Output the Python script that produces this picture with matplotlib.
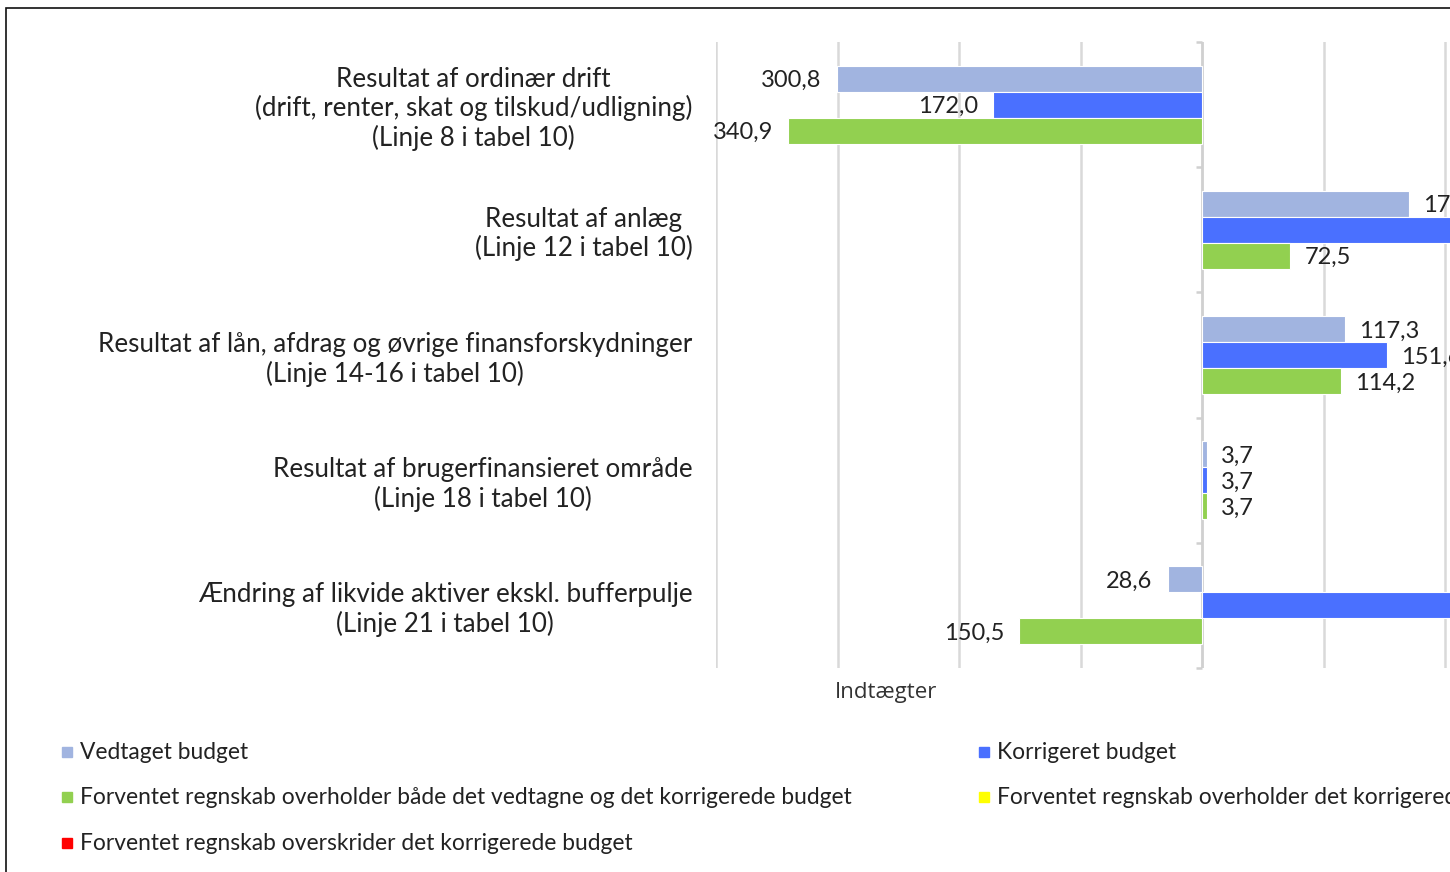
import matplotlib
matplotlib.use("Agg")
import matplotlib.pyplot as plt
from matplotlib.patches import Rectangle
from matplotlib.transforms import ScaledTranslation
import numpy as np

categories = [
    "Resultat af ordinær drift\n(drift, renter, skat og tilskud/udligning)\n(Linje 8 i tabel 10)",
    "Resultat af anlæg\n(Linje 12 i tabel 10)",
    "Resultat af lån, afdrag og øvrige finansforskydninger\n(Linje 14-16 i tabel 10)",
    "Resultat af brugerfinansieret område\n(Linje 18 i tabel 10)",
    "Ændring af likvide aktiver ekskl. bufferpulje\n(Linje 21 i tabel 10)",
]
vedtaget = [-300.8, 170.3, 117.3, 3.7, -28.6]
korrigeret = [-172.0, 300.0, 151.6, 3.7, 283.3]
forventet = [-340.9, 72.5, 114.2, 3.7, -150.5]

legend_labels = [
    "Vedtaget budget",
    "Korrigeret budget",
    "Forventet regnskab overholder både det vedtagne og det korrigerede budget",
    "Forventet regnskab overholder det korrigerede budget",
    "Forventet regnskab overskrider det korrigerede budget",
]
colors = ["#a1b4e0", "#4a70ff", "#92d050"]
legend_colors = ["#a1b4e0", "#4a70ff", "#92d050", "#ffff00", "#ff0000"]
axis_title = "Indtægter"

FONT = "Lato"
W, H = 1450, 872
fig = plt.figure(figsize=(W / 100, H / 100), dpi=100)

# axes geometry (pixels)
x_left_px, y_top_px, y_bot_px = 716, 42, 668
px_per_unit = 1.2157
xmin, xmax = -400, 400
ax_w_px = (xmax - xmin) * px_per_unit
ax = fig.add_axes([x_left_px / W, 1 - y_bot_px / H, ax_w_px / W, (y_bot_px - y_top_px) / H])

n = len(categories)
y = np.arange(n)
bh = 0.208
offsets = [-bh, 0, bh]
for vals, off, c in zip([vedtaget, korrigeret, forventet], offsets, colors):
    ax.barh(y + off, vals, height=bh, color=c, edgecolor="white", linewidth=0.8, zorder=3)
    for v, yy in zip(vals, y + off):
        lab = f"{abs(v):.1f}".replace(".", ",")
        if v < 0:
            ax.annotate(lab, (v, yy), xytext=(-15, -2), textcoords="offset pixels",
                        ha="right", va="center", fontsize=17, family=FONT, color="#222222")
        else:
            ax.annotate(lab, (v, yy), xytext=(14, -2), textcoords="offset pixels",
                        ha="left", va="center", fontsize=17, family=FONT, color="#222222",
                        annotation_clip=False)

ax.set_xlim(xmin, xmax)
ax.set_ylim(n - 0.5, -0.5)
ax.set_xticks(np.arange(xmin, xmax + 1, 100))
ax.tick_params(axis="x", length=0, labelbottom=False)
ax.grid(axis="x", color="#d9d9d9", linewidth=1.8, zorder=0)
for s in ax.spines.values():
    s.set_visible(False)

ax.set_yticks(y)
ax.set_yticklabels(categories, family=FONT, fontsize=18.7, color="#222222")
shift = ScaledTranslation(0, 2 / 100, fig.dpi_scale_trans)
for t in ax.get_yticklabels():
    t.set_multialignment("center")
    t.set_linespacing(1.17)
    t.set_transform(t.get_transform() + shift)
ax.tick_params(axis="y", length=0, pad=17)

# zero axis line with category separator ticks
ax.axvline(0, color="#d0d0d0", linewidth=1.8, zorder=2)
ax.plot(np.zeros(n + 1), np.arange(n + 1) - 0.5, linestyle="none", marker=0,
        markersize=4, markeredgewidth=1.8, color="#d0d0d0", clip_on=False, zorder=2)

fig.text(886 / W, 1 - 692 / H, axis_title, ha="center", va="center",
         fontsize=16, family="Open Sans", color="#333333")

# legend (manual)
leg_pos = [(62, 752), (979, 752), (62, 797), (979, 797), (62, 843)]
for (lx, ly), lab, c in zip(leg_pos, legend_labels, legend_colors):
    fig.patches.append(Rectangle((lx / W, 1 - (ly + 5) / H), 10 / W, 10 / H,
                                 transform=fig.transFigure, color=c))
    fig.text((lx + 18) / W, 1 - ly / H, lab, ha="left", va="center",
             fontsize=16.4, family=FONT, color="#222222")

# outer frame
fig.patches.append(Rectangle((6 / W, -0.1), 2, 1 - 8 / H + 0.1, transform=fig.transFigure,
                             fill=False, edgecolor="#111111", linewidth=1.2))

fig.savefig("out.png", dpi=100)
